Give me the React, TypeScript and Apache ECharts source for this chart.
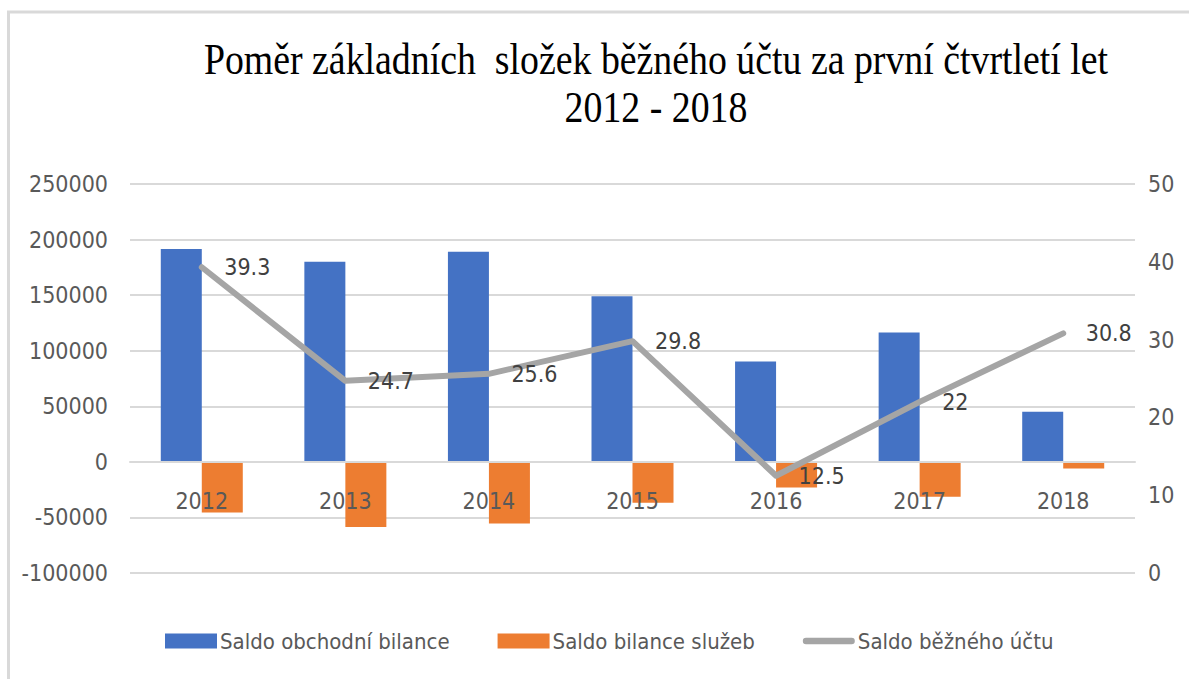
import React, { useEffect, useRef } from "react";
import * as echarts from "echarts";

const years = ["2012", "2013", "2014", "2015", "2016", "2017", "2018"];
const tradeBalance = [191500, 180000, 189000, 149000, 90300, 116400, 45000];
const servicesBalance = [-45500, -58500, -55500, -36900, -23100, -31500, -6000];
const currentAccount = [39.3, 24.7, 25.6, 29.8, 12.5, 22, 30.8];
const titleLines = ["Poměr základních  složek běžného účtu za první čtvrtletí let", "2012 - 2018"];
const seriesNames = ["Saldo obchodní bilance", "Saldo bilance služeb", "Saldo běžného účtu"];

const FONT = "'DejaVu Sans Condensed', 'Liberation Sans Narrow', 'DejaVu Sans', sans-serif";
const TITLE_FONT = "44px 'Liberation Serif', 'Times New Roman', serif";
const LINE_ICON =
  "path://M3.5,0 L53.5,0 A3.5,3.5 0 0 1 53.5,7 L3.5,7 A3.5,3.5 0 0 1 3.5,0 Z";

export default function App() {
  const ref = useRef<HTMLDivElement>(null);
  useEffect(() => {
    if (!ref.current) return;
    const chart = echarts.init(ref.current, undefined, { renderer: "svg" });
    chart.setOption({
      animation: false,
      backgroundColor: "#ffffff",
      color: ["#4472C4", "#ED7D31", "#A5A5A5"],
      graphic: [
        {
          type: "rect",
          shape: { x: 8.5, y: 12, width: 1400, height: 900 },
          style: { fill: "none", stroke: "#D9D9D9", lineWidth: 3 },
          silent: true,
        },
        {
          type: "text",
          x: 656,
          y: 59,
          scaleX: 0.86,
          style: {
            text: titleLines[0],
            font: TITLE_FONT,
            fill: "#000000",
            textAlign: "center",
            textVerticalAlign: "middle",
          },
        },
        {
          type: "text",
          x: 656,
          y: 107,
          scaleX: 0.86,
          style: {
            text: titleLines[1],
            font: TITLE_FONT,
            fill: "#000000",
            textAlign: "center",
            textVerticalAlign: "middle",
          },
        },
      ],
      legend: {
        data: [
          { name: seriesNames[0], icon: "rect" },
          { name: seriesNames[1], icon: "rect" },
          { name: seriesNames[2], icon: LINE_ICON },
        ],
        left: 160,
        top: 625,
        itemWidth: 52,
        itemHeight: 15,
        itemGap: 48,
        textStyle: { fontFamily: FONT, fontSize: 22, color: "#595959", padding: [0, 0, 0, -2] },
      },
      grid: { left: 130, right: 54, top: 184, bottom: 106, containLabel: false },
      xAxis: {
        type: "category",
        data: years,
        offset: -111,
        z: 10,
        axisLine: { show: true, onZero: false, lineStyle: { color: "#D9D9D9", width: 2 } },
        axisTick: { show: false },
        axisLabel: { fontFamily: FONT, fontSize: 23, color: "#595959", margin: 27 },
      },
      yAxis: [
        {
          type: "value",
          min: -100000,
          max: 250000,
          interval: 50000,
          axisLine: { show: false },
          axisTick: { show: false },
          splitLine: { lineStyle: { color: "#D9D9D9", width: 2 } },
          axisLabel: {
            fontFamily: FONT,
            fontSize: 23,
            color: "#595959",
            margin: 22,
            formatter: (v: number) => String(v),
          },
        },
        {
          type: "value",
          min: 0,
          max: 50,
          interval: 10,
          axisLine: { show: false },
          axisTick: { show: false },
          splitLine: { show: false },
          axisLabel: { fontFamily: FONT, fontSize: 23, color: "#595959", margin: 13 },
        },
      ],
      series: [
        {
          name: seriesNames[0],
          type: "bar",
          data: tradeBalance,
          barWidth: 41,
          barGap: "0%",
          yAxisIndex: 0,
        },
        {
          name: seriesNames[1],
          type: "bar",
          data: servicesBalance,
          barWidth: 41,
          barGap: "0%",
          yAxisIndex: 0,
        },
        {
          name: seriesNames[2],
          type: "line",
          data: currentAccount,
          yAxisIndex: 1,
          symbol: "circle",
          symbolSize: 1,
          showSymbol: true,
          itemStyle: { color: "#A5A5A5" },
          lineStyle: { width: 6, color: "#A5A5A5", cap: "round", join: "round" },
          label: {
            show: true,
            position: "right",
            distance: 22,
            fontFamily: FONT,
            fontSize: 23,
            color: "#404040",
          },
          z: 12,
        },
      ],
    });
    return () => chart.dispose();
  }, []);
  return <div ref={ref} style={{ position: "fixed", left: 0, top: 0, width: 1189, height: 679 }} />;
}
